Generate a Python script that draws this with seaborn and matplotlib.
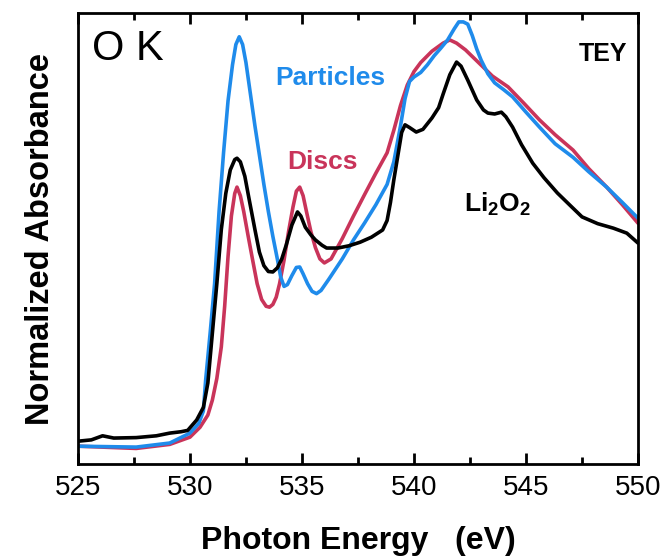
import matplotlib
matplotlib.use("Agg")
import matplotlib.pyplot as plt
import seaborn as sns
import pandas as pd
from matplotlib.ticker import MultipleLocator

# ---- data (photon energy in eV, normalized absorbance in arb. units) ----
li2o2_e = [525.0, 525.6, 526.1, 526.6, 527.6, 528.5, 529.1, 529.6, 529.9, 530.3,
           530.6, 530.8, 531.0, 531.2, 531.4, 531.6, 531.8, 532.0, 532.1, 532.25,
           532.45, 532.65, 532.9, 533.1, 533.3, 533.5, 533.7, 533.9, 534.1, 534.3,
           534.55, 534.8, 534.95, 535.15, 535.4, 535.6, 535.9, 536.1, 536.6, 537.1,
           537.6, 538.1, 538.6, 538.8, 538.95, 539.1, 539.3, 539.45, 539.6, 539.8,
           540.1, 540.4, 540.8, 541.1, 541.3, 541.6, 541.9, 542.1, 542.4, 542.8,
           543.1, 543.3, 543.6, 543.9, 544.1, 544.4, 544.8, 545.3, 545.8, 546.4,
           547.0, 547.5, 548.2, 548.9, 549.5, 550.0]
li2o2_a = [5.1, 5.4, 6.3, 5.8, 5.9, 6.3, 6.9, 7.2, 7.5, 9.8,
           12.6, 18.0, 29.0, 40.0, 52.0, 60.0, 65.2, 67.5, 67.8, 67.0,
           63.8, 58.5, 52.0, 47.0, 44.0, 42.7, 42.6, 43.5, 45.5, 48.6,
           53.0, 55.9, 55.0, 52.5, 50.8, 49.7, 48.5, 47.9, 47.9, 48.4,
           49.2, 50.3, 51.9, 54.0, 58.0, 63.0, 69.0, 73.5, 75.2, 74.6,
           73.6, 74.2, 76.7, 79.0, 82.0, 86.3, 89.1, 88.2, 85.1, 80.7,
           78.5, 77.8, 77.6, 78.0, 77.0, 74.7, 70.8, 66.7, 63.5, 60.1,
           57.2, 54.8, 53.3, 52.3, 51.2, 49.0]

part_e = [525.0, 527.6, 529.1, 530.0, 530.4, 530.6, 530.7, 530.9, 531.1, 531.3,
          531.5, 531.7, 531.9, 532.05, 532.2, 532.35, 532.5, 532.7, 532.9, 533.1,
          533.3, 533.5, 533.7, 533.9, 534.05, 534.2, 534.35, 534.55, 534.75, 534.9,
          535.05, 535.25, 535.45, 535.65, 535.85, 536.2, 536.8, 537.3, 537.8, 538.3,
          538.8, 539.1, 539.4, 539.6, 539.8, 540.0, 540.3, 540.6, 540.9, 541.2,
          541.5, 541.8, 542.0, 542.2, 542.4, 542.6, 542.8, 543.0, 543.3, 543.6,
          544.0, 544.4, 545.0, 545.6, 546.3, 547.1, 547.8, 548.6, 549.3, 550.0]
part_a = [4.0, 3.8, 4.7, 6.9, 9.1, 11.8, 18.6, 29.0, 40.0, 56.0,
          69.0, 80.5, 88.5, 93.0, 94.7, 93.0, 89.0, 82.0, 75.0, 68.5,
          62.0, 56.0, 50.5, 45.5, 41.5, 39.4, 39.8, 41.8, 43.6, 43.7,
          42.2, 40.0, 38.3, 37.8, 38.5, 41.0, 45.5, 49.7, 53.5, 57.5,
          62.0, 67.0, 75.0, 81.0, 84.8, 85.8, 86.8, 88.5, 90.5, 92.2,
          94.0, 96.5, 98.0, 98.0, 97.5, 95.0, 92.0, 89.5, 86.5, 84.5,
          83.0, 81.4, 78.0, 74.7, 71.0, 68.0, 64.8, 61.4, 58.0, 54.5]

disc_e = [525.0, 527.6, 529.1, 530.0, 530.45, 530.8, 531.0, 531.2, 531.4, 531.55,
          531.7, 531.85, 532.0, 532.1, 532.25, 532.4, 532.6, 532.8, 533.0, 533.2,
          533.4, 533.55, 533.7, 533.85, 534.0, 534.2, 534.4, 534.6, 534.75, 534.9,
          535.05, 535.2, 535.4, 535.6, 535.8, 536.0, 536.3, 536.8, 537.3, 537.8,
          538.3, 538.8, 539.1, 539.4, 539.7, 540.0, 540.3, 540.8, 541.3, 541.6,
          541.9, 542.3, 542.9, 543.5, 544.2, 544.9, 545.6, 546.3, 547.1, 547.8,
          548.6, 549.3, 550.0]
disc_a = [4.0, 3.5, 4.4, 6.0, 8.2, 10.9, 14.2, 19.0, 26.0, 35.0,
          46.0, 55.0, 60.0, 61.4, 59.5, 56.0, 50.5, 45.2, 40.0, 36.5,
          35.0, 34.8, 35.4, 37.0, 40.0, 45.2, 51.5, 57.0, 60.5, 61.4,
          59.5, 56.0, 51.5, 48.0, 45.5, 44.6, 45.5, 50.0, 55.0, 59.8,
          64.5, 69.0, 74.0, 79.5, 84.0, 87.0, 89.0, 91.5, 93.3, 94.0,
          93.3, 91.8, 88.9, 86.0, 83.6, 80.0, 76.3, 73.0, 69.6, 65.5,
          61.4, 57.5, 53.4]

x_ticks = [525, 530, 535, 540, 545, 550]

sns.set_theme(style="white")
plt.rcParams['font.family'] = ['Liberation Sans', 'DejaVu Sans']
plt.rcParams['mathtext.fontset'] = 'custom'
plt.rcParams['mathtext.rm'] = 'Liberation Sans'
plt.rcParams['mathtext.bf'] = 'Liberation Sans:bold'
plt.rcParams['text.color'] = 'black'
plt.rcParams['axes.labelcolor'] = 'black'
plt.rcParams['xtick.color'] = 'black'

BLUE = '#1f8beb'
RED = '#c9345a'
BLACK = '#000000'

fig = plt.figure(figsize=(6.66, 5.6), dpi=100)
ax = fig.add_axes([0.117, 0.171, 0.841, 0.806])

df_b = pd.DataFrame({'E': part_e, 'A': part_a})
df_r = pd.DataFrame({'E': disc_e, 'A': disc_a})
df_k = pd.DataFrame({'E': li2o2_e, 'A': li2o2_a})

sns.lineplot(data=df_r, x='E', y='A', ax=ax, color=RED, lw=2.6, sort=False)
sns.lineplot(data=df_b, x='E', y='A', ax=ax, color=BLUE, lw=2.6, sort=False)
sns.lineplot(data=df_k, x='E', y='A', ax=ax, color=BLACK, lw=2.6, sort=False)

ax.set_xlim(525, 550)
ax.set_ylim(0, 100)
ax.set_xticks(x_ticks)
ax.xaxis.set_minor_locator(MultipleLocator(2.5))
ax.set_yticks([])
ax.tick_params(axis='x', which='major', direction='in', length=8, width=2,
               top=True, bottom=True, labelsize=20, pad=8, colors='black')
ax.tick_params(axis='x', which='minor', direction='in', length=5, width=2,
               top=True, bottom=True, colors='black')
for s in ax.spines.values():
    s.set_linewidth(2)
    s.set_color('black')

ax.set_xlabel('Photon Energy   (eV)', fontsize=23, fontweight='bold', labelpad=18)
ax.set_ylabel('Normalized Absorbance', fontsize=23.5, fontweight='bold', labelpad=16)

ax.text(0.025, 0.965, 'O K', transform=ax.transAxes, fontsize=30,
        ha='left', va='top')
ax.text(0.98, 0.935, 'TEY', transform=ax.transAxes, fontsize=18,
        fontweight='bold', ha='right', va='top')
ax.text(0.353, 0.855, 'Particles', transform=ax.transAxes, fontsize=19,
        fontweight='bold', color=BLUE, ha='left', va='center')
ax.text(0.374, 0.67, 'Discs', transform=ax.transAxes, fontsize=19,
        fontweight='bold', color=RED, ha='left', va='center')
ax.text(0.69, 0.575, r'$\mathbf{Li_2O_2}$', transform=ax.transAxes, fontsize=19,
        color=BLACK, ha='left', va='center')

fig.savefig('out.png', dpi=100)
